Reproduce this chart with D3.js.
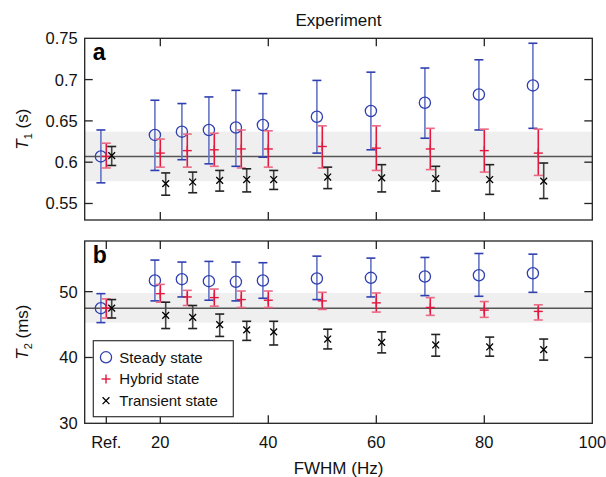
<!DOCTYPE html>
<html>
<head>
<meta charset="utf-8">
<script src="https://cdn.jsdelivr.net/npm/d3@7"></script>
<style>
  html, body { margin: 0; padding: 0; background: #fff; }
  svg { display: block; font-family: "Liberation Sans", Arial, Helvetica, sans-serif; }
</style>
</head>
<body>
<div id="chart"></div>
<script>
// FWHM categories (10 stands for the reference measurement)
const fwhm = [10, 20, 25, 30, 35, 40, 50, 60, 70, 80, 90];
const xTickValues = [10, 20, 40, 60, 80, 100];
const xTickLabels = ["Ref.", "20", "40", "60", "80", "100"];

// T1 (s): mean, lower, upper
const t1Steady = [0.607, 0.633, 0.637, 0.639, 0.642, 0.645, 0.655, 0.662, 0.672, 0.682, 0.693];
const t1SteadyLo = [0.575, 0.590, 0.603, 0.598, 0.595, 0.606, 0.611, 0.615, 0.629, 0.639, 0.641];
const t1SteadyHi = [0.639, 0.675, 0.671, 0.679, 0.687, 0.683, 0.699, 0.709, 0.714, 0.724, 0.744];
const t1Hybrid = [0.607, 0.611, 0.614, 0.615, 0.616, 0.616, 0.619, 0.617, 0.616, 0.614, 0.611];
const t1HybridLo = [0.593, 0.594, 0.594, 0.595, 0.593, 0.594, 0.593, 0.590, 0.591, 0.588, 0.584];
const t1HybridHi = [0.623, 0.628, 0.634, 0.635, 0.639, 0.638, 0.644, 0.644, 0.641, 0.640, 0.640];
const t1Transient = [0.608, 0.574, 0.576, 0.578, 0.579, 0.579, 0.582, 0.581, 0.580, 0.579, 0.577];
const t1TransientLo = [0.596, 0.560, 0.563, 0.565, 0.564, 0.567, 0.568, 0.564, 0.565, 0.561, 0.556];
const t1TransientHi = [0.619, 0.587, 0.588, 0.590, 0.592, 0.590, 0.594, 0.597, 0.595, 0.597, 0.599];
const t1Ref = [0.607, 0.577, 0.637];

// T2 (ms): mean, lower, upper
const t2Steady = [47.5, 51.7, 51.9, 51.6, 51.5, 51.7, 52.0, 52.1, 52.3, 52.5, 52.8];
const t2SteadyLo = [45.3, 48.6, 49.2, 48.7, 48.6, 49.0, 48.8, 49.2, 49.4, 49.3, 49.9];
const t2SteadyHi = [49.7, 54.8, 54.5, 54.6, 54.5, 54.4, 55.4, 55.1, 55.2, 55.8, 55.7];
const t2Hybrid = [47.5, 49.7, 49.2, 49.1, 48.8, 48.7, 48.6, 48.3, 47.6, 47.2, 47.0];
const t2HybridLo = [46.0, 48.4, 47.9, 47.8, 47.6, 47.6, 47.3, 46.9, 46.4, 46.1, 45.7];
const t2HybridHi = [48.9, 51.1, 50.2, 50.4, 50.1, 50.1, 49.9, 49.8, 49.1, 48.5, 48.0];
const t2Transient = [47.5, 46.4, 46.1, 45.0, 44.2, 43.9, 42.8, 42.3, 41.9, 41.6, 41.2];
const t2TransientLo = [46.0, 44.4, 44.4, 43.2, 42.6, 41.9, 41.3, 40.7, 40.2, 40.2, 39.6];
const t2TransientHi = [48.8, 48.4, 47.9, 46.6, 45.5, 45.5, 44.3, 43.9, 43.5, 43.1, 42.8];
const t2Ref = [47.5, 45.3, 49.8];

const t1Ticks = [0.75, 0.7, 0.65, 0.6, 0.55];
const t1TickLabels = ["0.75", "0.7", "0.65", "0.6", "0.55"];
const t2Ticks = [50, 40, 30];
const t2TickLabels = ["50", "40", "30"];

const legendLabels = ["Steady state", "Hybrid state", "Transient state"];

const width = 606, height = 477;
const left = 84.7, right = 592.3;

const x = d3.scaleLinear().domain([6, 100]).range([left, right]);
const yA = d3.scaleLinear().domain([0.53, 0.75]).range([220, 38.3]);
const yB = d3.scaleLinear().domain([30, 57.7]).range([423.3, 241]);

const BLUE = "#2f3fb0", BLUE_BAR = "#6575c4";
const RED = "#e3183f", RED_BAR = "#e3183f";
const BLACK = "#000", BLACK_BAR = "#444";

const svg = d3.select("#chart").append("svg")
  .attr("width", width)
  .attr("height", height)
  .attr("viewBox", `0 0 ${width} ${height}`);

function series(mean, lo, hi) {
  return fwhm.map((f, i) => ({ f, m: mean[i], lo: lo[i], hi: hi[i] }));
}

function drawPanel(y, cfg) {
  const top = y.range()[1], bottom = y.range()[0];
  const g = svg.append("g");

  // reference band and line
  g.append("rect")
    .attr("x", left).attr("width", right - left)
    .attr("y", y(cfg.ref[2])).attr("height", y(cfg.ref[1]) - y(cfg.ref[2]))
    .style("fill", "#efefef");
  g.append("line")
    .attr("x1", left).attr("x2", right)
    .attr("y1", y(cfg.ref[0])).attr("y2", y(cfg.ref[0]))
    .style("stroke", "#555").attr("stroke-width", 1.5);

  // error bars and markers
  const groups = [
    { data: cfg.steady, dx: -1, bar: BLUE_BAR, cap: BLUE, kind: "circle", color: BLUE },
    { data: cfg.hybrid, dx: 0, bar: RED_BAR, cap: "#ea6a84", kind: "plus", color: RED },
    { data: cfg.transient, dx: 1, bar: BLACK_BAR, cap: "#222", kind: "x", color: BLACK }
  ];
  groups.forEach(s => {
    s.data.forEach(d => {
      const cx = x(d.f + s.dx);
      g.append("line")
        .attr("x1", cx).attr("x2", cx)
        .attr("y1", y(d.lo)).attr("y2", y(d.hi))
        .style("stroke", s.bar).attr("stroke-width", 1.6);
      [d.lo, d.hi].forEach(v => {
        g.append("line")
          .attr("x1", cx - 4.5).attr("x2", cx + 4.5)
          .attr("y1", y(v)).attr("y2", y(v))
          .style("stroke", s.cap).attr("stroke-width", 1.6);
      });
      drawMarker(g, s.kind, cx, y(d.m), s.color);
    });
  });

  // frame
  g.append("rect")
    .attr("x", left).attr("y", top)
    .attr("width", right - left).attr("height", bottom - top)
    .style("fill", "none").style("stroke", "#222").attr("stroke-width", 1.3);

  // inward ticks
  const tl = 8;
  cfg.xTicks.forEach(v => {
    g.append("line").attr("x1", x(v)).attr("x2", x(v)).attr("y1", top).attr("y2", top + tl)
      .style("stroke", "#222").attr("stroke-width", 1.3);
    g.append("line").attr("x1", x(v)).attr("x2", x(v)).attr("y1", bottom).attr("y2", bottom - tl)
      .style("stroke", "#222").attr("stroke-width", 1.3);
  });
  cfg.yTicks.forEach((v, i) => {
    const yy = y(v);
    if (yy > top + 1 && yy < bottom - 1) {
      g.append("line").attr("x1", left).attr("x2", left + tl).attr("y1", yy).attr("y2", yy)
        .style("stroke", "#222").attr("stroke-width", 1.3);
      g.append("line").attr("x1", right).attr("x2", right - tl).attr("y1", yy).attr("y2", yy)
        .style("stroke", "#222").attr("stroke-width", 1.3);
    }
    g.append("text")
      .attr("x", left - 7).attr("y", yy).attr("dy", "0.36em")
      .attr("text-anchor", "end")
      .attr("font-size", "16.5px").style("fill", "#111")
      .text(cfg.yTickLabels[i]);
  });

  // panel letter
  g.append("text")
    .attr("x", left + 8).attr("y", top + 22)
    .attr("font-size", "23px").attr("font-weight", "bold").style("fill", "#000")
    .text(cfg.letter);

  // y title
  const ty = g.append("text")
    .attr("transform", `translate(28,${(top + bottom) / 2}) rotate(-90)`)
    .attr("text-anchor", "middle")
    .attr("font-size", "17px").style("fill", "#111");
  ty.append("tspan").attr("font-style", "italic").text("T");
  ty.append("tspan").attr("font-size", "11px").attr("dy", "4").text(cfg.sub);
  ty.append("tspan").attr("dy", "-4").text(cfg.unit);
}

function drawMarker(g, kind, cx, cy, color) {
  if (kind === "circle") {
    g.append("circle").attr("cx", cx).attr("cy", cy).attr("r", 5.6)
      .style("fill", "none").style("stroke", color).attr("stroke-width", 1.3);
  } else if (kind === "plus") {
    g.append("line").attr("x1", cx - 4.5).attr("x2", cx + 4.5).attr("y1", cy).attr("y2", cy)
      .style("stroke", color).attr("stroke-width", 1.4);
    g.append("line").attr("x1", cx).attr("x2", cx).attr("y1", cy - 4.5).attr("y2", cy + 4.5)
      .style("stroke", color).attr("stroke-width", 1.4);
  } else {
    const s = 3.4;
    g.append("path")
      .attr("d", `M${cx - s},${cy - s}L${cx + s},${cy + s}M${cx - s},${cy + s}L${cx + s},${cy - s}`)
      .style("stroke", color).attr("stroke-width", 1.3);
  }
}

drawPanel(yA, {
  steady: series(t1Steady, t1SteadyLo, t1SteadyHi),
  hybrid: series(t1Hybrid, t1HybridLo, t1HybridHi),
  transient: series(t1Transient, t1TransientLo, t1TransientHi),
  ref: t1Ref,
  xTicks: [20, 40, 60, 80],
  yTicks: t1Ticks, yTickLabels: t1TickLabels,
  letter: "a", sub: "1", unit: " (s)"
});

drawPanel(yB, {
  steady: series(t2Steady, t2SteadyLo, t2SteadyHi),
  hybrid: series(t2Hybrid, t2HybridLo, t2HybridHi),
  transient: series(t2Transient, t2TransientLo, t2TransientHi),
  ref: t2Ref,
  xTicks: [10, 20, 40, 60, 80],
  yTicks: t2Ticks, yTickLabels: t2TickLabels,
  letter: "b", sub: "2", unit: " (ms)"
});

// x tick labels under panel b
xTickValues.forEach((v, i) => {
  svg.append("text")
    .attr("x", x(v)).attr("y", 442).attr("dy", "0.36em")
    .attr("text-anchor", "middle")
    .attr("font-size", "16.5px").style("fill", "#111")
    .text(xTickLabels[i]);
});

svg.append("text")
  .attr("x", (left + right) / 2).attr("y", 468).attr("dy", "0.36em")
  .attr("text-anchor", "middle")
  .attr("font-size", "17px").style("fill", "#111")
  .text("FWHM (Hz)");

svg.append("text")
  .attr("x", (left + right) / 2).attr("y", 20).attr("dy", "0.36em")
  .attr("text-anchor", "middle")
  .attr("font-size", "17px").style("fill", "#111")
  .text("Experiment");

// legend
const lg = svg.append("g");
lg.append("rect")
  .attr("x", 93.3).attr("y", 340.7).attr("width", 140).attr("height", 76)
  .style("fill", "#fff").style("stroke", "#333").attr("stroke-width", 1.2);
const legendKinds = [["circle", BLUE], ["plus", RED], ["x", BLACK]];
legendLabels.forEach((label, i) => {
  const ly = 357.3 + i * 21.7;
  drawMarker(lg, legendKinds[i][0], 106, ly, legendKinds[i][1]);
  lg.append("text")
    .attr("x", 119.3).attr("y", ly).attr("dy", "0.36em")
    .attr("font-size", "15px").style("fill", "#111")
    .text(label);
});
</script>
</body>
</html>
